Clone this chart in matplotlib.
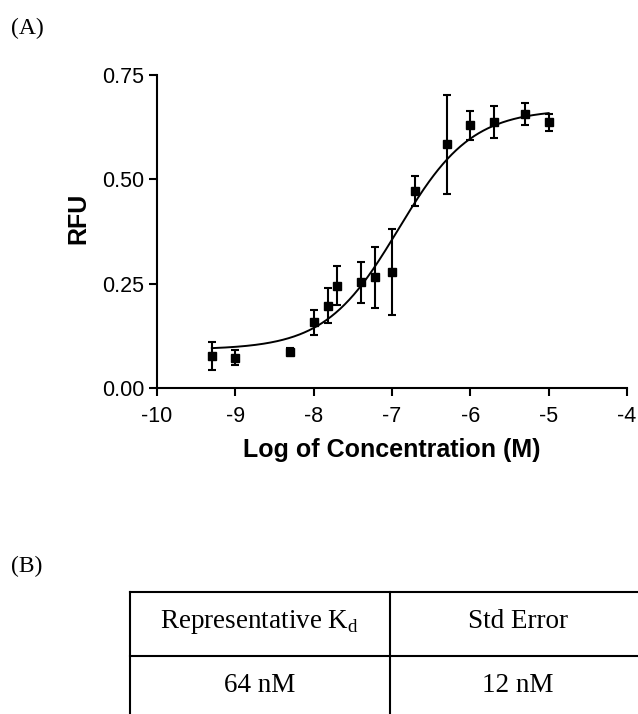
import numpy as np
import matplotlib
matplotlib.use("Agg")
import matplotlib.pyplot as plt
from matplotlib.lines import Line2D

plt.rcParams["axes.unicode_minus"] = False

# binding data: log concentration, mean RFU, error
log_conc = [-9.3, -9.0, -8.3, -8.0, -7.82, -7.7, -7.4, -7.22, -7.0,
            -6.7, -6.3, -6.0, -5.7, -5.3, -5.0]
rfu = [0.077, 0.073, 0.087, 0.157, 0.197, 0.245, 0.253, 0.265, 0.277,
       0.471, 0.584, 0.629, 0.637, 0.656, 0.637]
rfu_err = [0.033, 0.018, 0.008, 0.029, 0.042, 0.047, 0.050, 0.073, 0.103,
           0.036, 0.119, 0.034, 0.038, 0.027, 0.020]

# sigmoidal dose-response fit parameters
fit_bottom = 0.092
fit_top = 0.668
fit_logec50 = -6.92
fit_hill = 0.93

table_header = ["Representative K$_\\mathregular{d}$", "Std Error"]
table_values = ["64 nM", "12 nM"]

W, H = 638, 714
fig = plt.figure(figsize=(W / 100, H / 100), dpi=100)

def fx(px):
    return px / W

def fy(py):
    return 1 - py / H

ax = fig.add_axes([fx(157), fy(388), fx(627) - fx(157), fy(75) - fy(388)])

xfit = np.linspace(min(log_conc), max(log_conc), 300)
yfit = fit_bottom + (fit_top - fit_bottom) / (1 + 10 ** ((fit_logec50 - xfit) * fit_hill))
ax.plot(xfit, yfit, color="black", lw=1.4)
ax.errorbar(log_conc, rfu, yerr=rfu_err, fmt="s", color="black", ms=5.5,
            ecolor="black", elinewidth=1.5, capsize=3, capthick=1.5)

ax.set_xlim(-10, -4)
ax.set_ylim(0, 0.75)
ax.set_xticks(range(-10, -3))
ax.set_yticks([0, 0.25, 0.5, 0.75])
ax.set_yticklabels(["0.00", "0.25", "0.50", "0.75"])
for s in ["top", "right"]:
    ax.spines[s].set_visible(False)
for s in ["left", "bottom"]:
    ax.spines[s].set_linewidth(1.5)
ax.tick_params(direction="out", length=6, width=1.5, labelsize=15.5)
ax.tick_params(axis="x", pad=7)
ax.tick_params(axis="y", pad=3)
for lab in ax.get_xticklabels() + ax.get_yticklabels():
    lab.set_fontfamily("Liberation Sans")
ax.set_xlabel("Log of Concentration (M)", fontsize=18, fontweight="bold",
              family="Liberation Sans")
ax.xaxis.set_label_coords(0.5, (388 - 450) / (388 - 75), transform=ax.transAxes)
ax.xaxis.label.set_va("center")
ax.set_ylabel("RFU", fontsize=18, fontweight="bold", family="Liberation Sans")
ax.yaxis.set_label_coords((78 - 157) / (627 - 157), (388 - 218) / (388 - 75))
ax.yaxis.label.set_va("center")

fig.text(fx(11), fy(28), "(A)", fontsize=17, family="Liberation Serif", va="center")
fig.text(fx(11), fy(566), "(B)", fontsize=17, family="Liberation Serif", va="center")

# table lines
lw = 1.5
left, right, top, mid, bottom, div = 130, 640, 592, 656, 720, 390
for (x0, y0, x1, y1) in [(left, top, right, top), (left, mid, right, mid),
                         (left, top, left, bottom), (div, top, div, bottom)]:
    fig.add_artist(Line2D([fx(x0), fx(x1)], [fy(y0), fy(y1)], color="black",
                          lw=lw, transform=fig.transFigure))

for i, (h, v) in enumerate(zip(table_header, table_values)):
    cx = 260 if i == 0 else 518
    fig.text(fx(cx), fy(622), h, fontsize=19.5, family="Liberation Serif",
             ha="center", va="center")
    fig.text(fx(cx), fy(686), v, fontsize=19.5, family="Liberation Serif",
             ha="center", va="center")

fig.savefig("out.png", dpi=100)
